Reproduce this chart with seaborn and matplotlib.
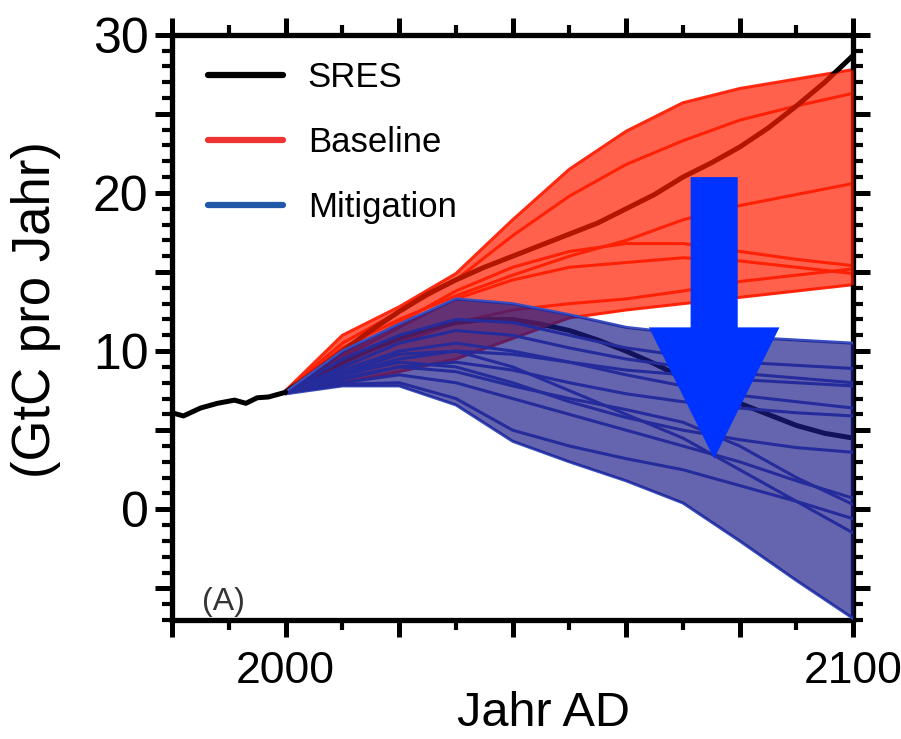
import numpy as np
import pandas as pd
import matplotlib
matplotlib.use("Agg")
import matplotlib.pyplot as plt
from matplotlib.lines import Line2D
from matplotlib.ticker import MultipleLocator, FixedLocator, FixedFormatter
import seaborn as sns

# ---------------- data ----------------
hist_years = [1980, 1982, 1985, 1988, 1991, 1993, 1995, 1997, 2000]
hist_vals = [6.1, 5.9, 6.4, 6.7, 6.9, 6.7, 7.05, 7.1, 7.4]

years = [2000, 2010, 2020, 2030, 2040, 2050, 2060, 2070, 2080, 2090, 2100]

sres_years = [2000, 2005, 2010, 2015, 2020, 2025, 2030, 2035, 2040, 2045, 2050,
              2055, 2060, 2065, 2070, 2075, 2080, 2085, 2090, 2095, 2100]
sres_high = [7.4, 8.7, 10.0, 11.3, 12.5, 13.6, 14.5, 15.3, 16.0, 16.7, 17.4,
             18.1, 19.0, 19.9, 21.0, 21.9, 22.9, 24.1, 25.5, 27.0, 28.7]
sres_low = [7.4, 8.4, 9.3, 10.1, 10.8, 11.4, 11.8, 12.0, 12.0, 11.7, 11.3,
            10.7, 10.0, 9.2, 8.3, 7.5, 6.7, 6.0, 5.3, 4.8, 4.5]

base_upper = [7.5, 11.0, 12.8, 14.9, 18.3, 21.5, 23.9, 25.7, 26.6, 27.2, 27.8]
base_lower = [7.3, 8.0, 8.7, 9.5, 10.8, 12.1, 12.6, 13.0, 13.4, 13.8, 14.2]
base_r2 = [7.5, 10.5, 12.5, 14.5, 17.3, 19.8, 21.8, 23.3, 24.6, 25.5, 26.3]
base_r3 = [7.4, 10.2, 12.0, 13.5, 14.8, 16.0, 17.0, 18.3, 19.2, 19.9, 20.6]
base_r4 = [7.4, 9.8, 11.8, 13.8, 15.3, 16.3, 16.8, 16.8, 16.3, 15.8, 15.4]
base_r5 = [7.4, 9.6, 11.5, 13.3, 14.5, 15.3, 15.6, 15.9, 15.7, 15.3, 14.9]
base_r6 = [7.3, 9.0, 10.5, 11.8, 12.6, 13.0, 13.3, 13.8, 14.4, 14.8, 15.2]

mit_upper = [7.4, 10.0, 11.7, 13.3, 13.0, 12.3, 11.5, 11.1, 10.9, 10.7, 10.5]
mit_lower = [7.3, 7.8, 7.8, 6.6, 4.3, 3.0, 1.8, 0.4, -2.0, -4.5, -6.9]
mit_b2 = [7.4, 9.5, 11.0, 12.0, 11.8, 11.0, 10.2, 9.7, 9.3, 9.1, 8.9]
mit_b3 = [7.4, 9.0, 10.5, 11.3, 11.0, 10.2, 9.5, 9.0, 8.6, 8.3, 8.0]
mit_b4 = [7.4, 8.5, 9.5, 10.0, 9.8, 9.3, 8.8, 8.5, 8.2, 8.0, 7.8]
mit_b5 = [7.4, 8.8, 10.0, 10.5, 10.0, 9.3, 8.5, 7.8, 7.2, 6.8, 6.4]
mit_b6 = [7.4, 8.2, 9.0, 9.3, 8.8, 8.0, 7.3, 6.8, 6.4, 6.1, 5.9]
mit_b7 = [7.4, 8.5, 9.3, 9.0, 8.0, 6.8, 5.8, 5.0, 4.4, 3.9, 3.6]
mit_b8 = [7.4, 8.0, 8.5, 8.0, 7.0, 6.0, 5.0, 4.0, 3.0, 1.8, 0.7]
mit_b9 = [7.4, 8.3, 9.0, 8.7, 7.8, 7.0, 6.3, 5.5, 4.0, 2.0, 0.3]
mit_b10 = [7.4, 7.9, 8.0, 7.0, 5.0, 4.0, 3.2, 2.5, 1.5, 0.5, -0.6]
mit_b11 = [7.4, 8.6, 9.8, 10.0, 9.0, 7.5, 6.0, 4.5, 2.5, 0.5, -1.5]

legend_labels = ["SRES", "Baseline", "Mitigation"]
x_tick_labels = {2000: "2000", 2100: "2100"}
y_tick_labels = {0: "0", 10: "10", 20: "20", 30: "30"}

# arrow annotation (data coordinates)
arrow_x, arrow_top, arrow_tip = 2075.5, 21.0, 3.2
arrow_shaft_w, arrow_head_w, arrow_head_len = 8.3, 23.0, 8.3

# ---------------- build long tables ----------------
def long_table(series_dict, xs):
    rows = []
    for name, vals in series_dict.items():
        for y, v in zip(xs, vals):
            rows.append({"year": y, "value": v, "run": name})
    return pd.DataFrame(rows)

df_base = long_table({"u": base_upper, "r2": base_r2, "r3": base_r3, "r4": base_r4,
                      "r5": base_r5, "r6": base_r6, "l": base_lower}, years)
df_mit = long_table({"u": mit_upper, "b2": mit_b2, "b3": mit_b3, "b4": mit_b4,
                     "b5": mit_b5, "b6": mit_b6, "b7": mit_b7, "b8": mit_b8,
                     "b9": mit_b9, "b10": mit_b10, "b11": mit_b11, "l": mit_lower}, years)
df_sres = long_table({"high": sres_high, "low": sres_low}, sres_years)
df_hist = pd.DataFrame({"year": hist_years, "value": hist_vals, "run": "hist"})

# ---------------- style ----------------
sns.set_theme(style="white")
plt.rcParams["font.family"] = ["Liberation Sans", "DejaVu Sans"]
plt.rcParams["text.color"] = "black"
plt.rcParams["axes.labelcolor"] = "black"
plt.rcParams["xtick.color"] = "black"
plt.rcParams["ytick.color"] = "black"

fig = plt.figure(figsize=(9.01, 7.39), dpi=100)
ax = fig.add_axes([0.191, 0.161, 0.756, 0.792])

RED_LINE = "#ff2a12"
BLUE_LINE = "#3a4fc0"
RED_FILL = "#ff1e00"
BLUE_FILL = "#1b1b89"

sns.lineplot(data=df_base, x="year", y="value", units="run", estimator=None,
             color=RED_LINE, linewidth=2.2, ax=ax, zorder=2, legend=False)
sns.lineplot(data=df_sres, x="year", y="value", units="run", estimator=None,
             color="black", linewidth=3.6, ax=ax, zorder=2, legend=False)
ax.fill_between(years, base_lower, base_upper, color=RED_FILL, alpha=0.70,
                linewidth=0, zorder=3)
sns.lineplot(data=df_mit, x="year", y="value", units="run", estimator=None,
             color=BLUE_LINE, linewidth=2.2, ax=ax, zorder=4, legend=False)
ax.fill_between(years, mit_lower, mit_upper, color=BLUE_FILL, alpha=0.68,
                linewidth=0, zorder=5)
sns.lineplot(data=df_hist, x="year", y="value", color="black", linewidth=3.6,
             ax=ax, zorder=6, legend=False)

ax.arrow(arrow_x, arrow_top, 0, arrow_tip - arrow_top, width=arrow_shaft_w,
         head_width=arrow_head_w, head_length=arrow_head_len,
         length_includes_head=True, color="#0033ff", linewidth=0, zorder=7)

ax.set_xlim(1980, 2100)
ax.set_ylim(-7, 30)

# ticks
ax.xaxis.set_major_locator(FixedLocator(np.arange(1980, 2101, 20)))
ax.xaxis.set_major_formatter(FixedFormatter(
    [x_tick_labels.get(int(v), "") for v in np.arange(1980, 2101, 20)]))
ax.xaxis.set_minor_locator(MultipleLocator(10))
ax.yaxis.set_major_locator(FixedLocator(np.arange(-5, 31, 5)))
ax.yaxis.set_major_formatter(FixedFormatter(
    [y_tick_labels.get(int(v), "") for v in np.arange(-5, 31, 5)]))
ax.yaxis.set_minor_locator(MultipleLocator(1))

ax.tick_params(which="both", direction="out", top=True, right=True,
               bottom=True, left=True, color="black")
ax.tick_params(which="major", length=12, width=3.6)
ax.tick_params(which="minor", length=7, width=3.0)
ax.tick_params(axis="x", which="major", labelsize=32, pad=10)
ax.tick_params(axis="y", which="major", labelsize=36, pad=5)

for s in ax.spines.values():
    s.set_linewidth(3.8)
    s.set_color("black")
    s.set_visible(True)

ax.set_xlabel("Jahr AD", fontsize=35)
ax.xaxis.set_label_coords(0.545, -0.121)
ax.set_ylabel("(GtC pro Jahr)", fontsize=38)
ax.yaxis.set_label_coords(-0.163, 0.53)

ax.text(0.044, 0.017, "(A)", transform=ax.transAxes, fontsize=23,
        color="#333333", va="baseline", ha="left", zorder=8)

handles = [Line2D([], [], color="black", lw=4.5),
           Line2D([], [], color="#ee3333", lw=4.5),
           Line2D([], [], color="#2157a8", lw=4.5)]
ax.legend(handles, legend_labels, loc="upper left", bbox_to_anchor=(0.032, 0.979),
          borderaxespad=0, frameon=False, fontsize=25, handlelength=2.16,
          handletextpad=0.72, labelspacing=0.93)

ax.grid(False)
fig.savefig("out.png", dpi=100)
